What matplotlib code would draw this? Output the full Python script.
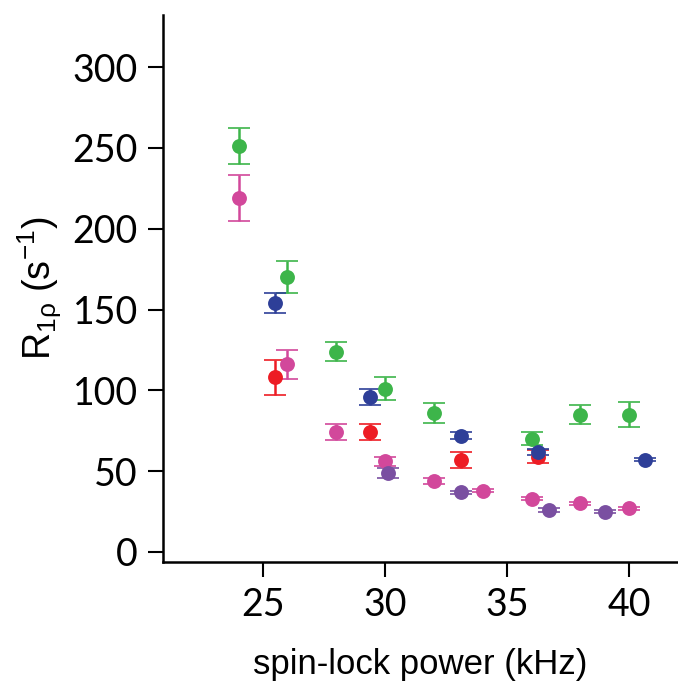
import matplotlib
matplotlib.use("Agg")
import matplotlib.pyplot as plt

plt.rcParams['mathtext.fontset'] = 'custom'
plt.rcParams['mathtext.rm'] = 'Liberation Sans'
plt.rcParams['mathtext.it'] = 'Liberation Sans'

# data
green_x = [24, 26, 28, 30, 32, 36, 38, 40]
green_y = [251, 170, 124, 101, 86, 70, 85, 85]
green_e = [11, 10, 6, 7, 6, 4, 6, 8]

pink_x = [24, 26, 28, 30, 32, 34, 36, 38, 40]
pink_y = [219, 116, 74, 56, 44, 38, 33, 30, 27]
pink_e = [14, 9, 5, 3, 2, 1, 1, 1, 1]

red_x = [25.5, 29.4, 33.1, 36.25]
red_y = [108, 74, 57, 59]
red_e = [11, 5, 5, 4]

blue_x = [25.5, 29.4, 33.1, 36.25, 40.65]
blue_y = [154, 96, 72, 62, 57]
blue_e = [6, 5, 2, 2, 1]

purple_x = [30.1, 33.1, 36.7, 39.0]
purple_y = [49, 37, 26, 25]
purple_e = [3, 1, 1, 1]

x_ticks = [25, 30, 35, 40]
y_ticks = [0, 50, 100, 150, 200, 250, 300]

series = [
    (green_x, green_y, green_e, "#3db54a"),
    (pink_x, pink_y, pink_e, "#d2489b"),
    (red_x, red_y, red_e, "#ed1c24"),
    (blue_x, blue_y, blue_e, "#2e3f98"),
    (purple_x, purple_y, purple_e, "#7a4fa1"),
]

fig = plt.figure(figsize=(6.78, 6.85), dpi=100)
ax = fig.add_axes([0.2404, 0.1796, 0.7596, 0.798])

for xs, ys, es, c in series:
    ax.errorbar(xs, ys, yerr=es, fmt='o', color=c, ecolor=c, markersize=9.5,
                markeredgewidth=1.2, markeredgecolor=c,
                elinewidth=1.8, capsize=8, capthick=2.0)

ax.set_xlim(20.9, 42.0)
ax.set_ylim(-6.2, 332)
ax.set_xticks(x_ticks)
ax.set_yticks(y_ticks)

for s in ['top', 'right']:
    ax.spines[s].set_visible(False)
for s in ['left', 'bottom']:
    ax.spines[s].set_linewidth(1.8)

tick_font = 'Lato'
ax.tick_params(axis='both', direction='out', length=11, width=1.5, labelsize=27, pad=7)
for lab in ax.get_xticklabels() + ax.get_yticklabels():
    lab.set_fontfamily(tick_font)

ax.set_xlabel('spin-lock power (kHz)', fontsize=25, family='Liberation Sans', labelpad=18)
ax.set_ylabel(r'R$_{\mathrm{1ρ}}$ (s$^{\mathrm{-1}}$)', fontsize=27, family='Liberation Sans', labelpad=6)

fig.savefig('out.png', dpi=100)
